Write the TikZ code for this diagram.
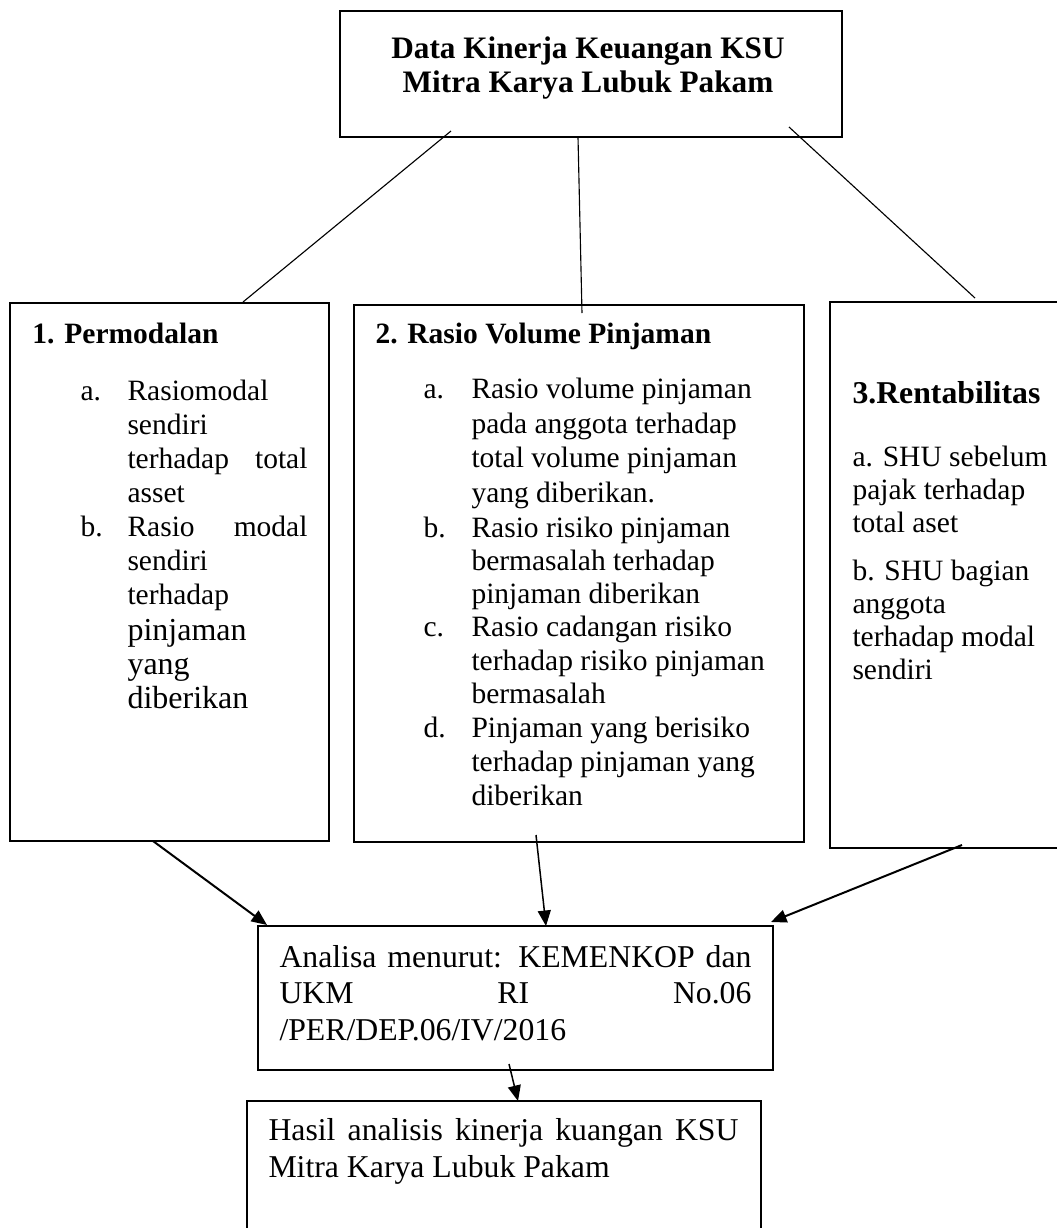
\documentclass[tikz,border=0pt]{standalone}
\usepackage{fontspec}
\setmainfont{Liberation Serif}
\usetikzlibrary{arrows.meta}
\newcommand\fBody{\fontsize{11.8}{13.8}\selectfont}
\newcommand\fLarge{\fontsize{12.8}{14.8}\selectfont}
\newcommand\fTitle{\fontsize{12.5}{14.5}\selectfont\bfseries}
\newcommand\fRent{\fontsize{12.7}{14.7}\selectfont\bfseries}
\newcommand\fLow{\fontsize{12.7}{14.7}\selectfont}
\tikzset{
  boxst/.style={draw, line width=1.1pt, inner sep=0pt, rectangle},
  txt/.style={inner sep=0pt, anchor=base west, font=\fBody},
  ttl/.style={inner sep=0pt, anchor=base, font=\fTitle},
  thin/.style={line width=0.45pt},
  arr/.style={line width=0.8pt, -{Triangle[length=6.2pt,width=5.2pt]}},
}
\begin{document}
\begin{tikzpicture}[x=0.4pt,y=-0.4pt]
\useasboundingbox (0,0) rectangle (1056,1228);
% boxes
\node[boxst, minimum width=200.8pt, minimum height=50.4pt] (top) at (591,74) {};
\node[boxst, minimum width=127.6pt, minimum height=215.2pt] (b1) at (169.5,572) {};
\node[boxst, minimum width=180pt, minimum height=214.8pt] (b2) at (579,573.5) {};
\node[boxst, minimum width=98pt, minimum height=218.4pt] (b3) at (952.5,575) {};
\node[boxst, minimum width=206pt, minimum height=57.6pt] (an) at (515.5,998) {};
\node[boxst, minimum width=205.6pt, minimum height=55.6pt] (ha) at (504,1170.5) {};
% title
\node[ttl] (t1) at (588,58) {Data Kinerja Keuangan KSU};
\node[ttl] (t2) at (588,92) {Mitra Karya Lubuk Pakam};
% box 1
\node[txt, font=\fBody\bfseries] (b1h) at (32,343) {1. Permodalan};
\node[txt] (b1la) at (80,400) {a.};
\node[txt] (b1a1) at (127,400) {Rasiomodal};
\node[txt] (b1a2) at (127,434) {sendiri};
\node[txt] (b1a3) at (127,468) {\makebox[72pt][s]{terhadap total}};
\node[txt] (b1a4) at (127,502) {asset};
\node[txt] (b1lb) at (80,536) {b.};
\node[txt] (b1b1) at (127,536) {\makebox[72pt][s]{Rasio modal}};
\node[txt] (b1b2) at (127,570) {sendiri};
\node[txt] (b1b3) at (127,604) {terhadap};
\node[txt, font=\fLarge] (b1b4) at (127,640) {pinjaman};
\node[txt, font=\fLarge] (b1b5) at (127,674) {yang};
\node[txt, font=\fLarge] (b1b6) at (127,708) {diberikan};
% box 2
\node[txt, font=\fBody\bfseries] (b2h) at (375,343) {2. Rasio Volume Pinjaman};
\node[txt] (b2la) at (423,398) {a.};
\node[txt] (b2a1) at (471,398) {Rasio volume pinjaman};
\node[txt] (b2a2) at (471,433) {pada anggota terhadap};
\node[txt] (b2a3) at (471,467) {total volume pinjaman};
\node[txt] (b2a4) at (471,502) {yang diberikan.};
\node[txt] (b2lb) at (423,537) {b.};
\node[txt] (b2b1) at (471,537) {Rasio risiko pinjaman};
\node[txt] (b2b2) at (471,570) {bermasalah terhadap};
\node[txt] (b2b3) at (471,603) {pinjaman diberikan};
\node[txt] (b2lc) at (423,636) {c.};
\node[txt] (b2c1) at (471,636) {Rasio cadangan risiko};
\node[txt] (b2c2) at (471,670) {terhadap risiko pinjaman};
\node[txt] (b2c3) at (471,703) {bermasalah};
\node[txt] (b2ld) at (423,737) {d.};
\node[txt] (b2d1) at (471,737) {Pinjaman yang berisiko};
\node[txt] (b2d2) at (471,771) {terhadap pinjaman yang};
\node[txt] (b2d3) at (471,805) {diberikan};
% box 3
\node[txt, font=\fRent] (b3h) at (852,403) {3.Rentabilitas};
\node[txt] (b3a1) at (852,466) {a. SHU sebelum};
\node[txt] (b3a2) at (852,499) {pajak terhadap};
\node[txt] (b3a3) at (852,532) {total aset};
\node[txt] (b3b1) at (852,580) {b. SHU bagian};
\node[txt] (b3b2) at (852,613) {anggota};
\node[txt] (b3b3) at (852,646) {terhadap modal};
\node[txt] (b3b4) at (852,679) {sendiri};
% analisa
\node[txt, font=\fLow] (an1) at (279,967) {\makebox[188.8pt][s]{Analisa menurut: KEMENKOP dan}};
\node[txt, font=\fLow] (an2) at (279,1003) {\makebox[188.8pt][s]{UKM RI No.06}};
\node[txt, font=\fLow] (an3) at (279,1040) {/PER/DEP.06/IV/2016};
% hasil
\node[txt, font=\fLow] (ha1) at (268,1140) {\makebox[188pt][s]{Hasil analisis kinerja kuangan KSU}};
\node[txt, font=\fLow] (ha2) at (268,1177) {Mitra Karya Lubuk Pakam};
% connector ends
\coordinate (cA1) at (451,131); \coordinate (cA2) at (243,302);
\coordinate (cB1) at (578,137); \coordinate (cB2) at (582,313);
\coordinate (cC1) at (789,127); \coordinate (cC2) at (975,298);
\coordinate (d1s) at (153,841); \coordinate (d1e) at (267,925);
\coordinate (d2s) at (536,835); \coordinate (d2e) at (546,926);
\coordinate (d3s) at (962,845); \coordinate (d3e) at (771,922);
\coordinate (d4s) at (509,1064); \coordinate (d4e) at (518,1101);
\draw[thin] (cA1) -- (cA2);
\draw[thin] (cB1) -- (cB2);
\draw[thin] (cC1) -- (cC2);
\draw[arr] (d1s) -- (d1e);
\draw[arr, line width=0.6pt] (d2s) -- (d2e);
\draw[arr] (d3s) -- (d3e);
\draw[arr, line width=0.6pt] (d4s) -- (d4e);
\end{tikzpicture}
\end{document}
